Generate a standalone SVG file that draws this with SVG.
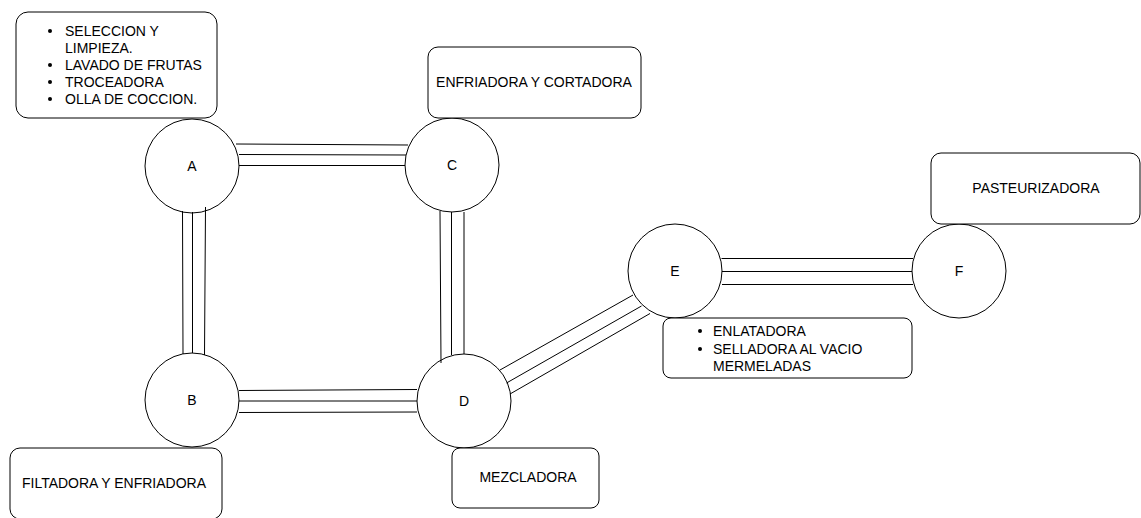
<svg xmlns="http://www.w3.org/2000/svg" width="1141" height="518" viewBox="0 0 1141 518">
  <style>
    .box { fill: #ffffff; stroke: #000000; stroke-width: 1; }
    .station { fill: #ffffff; stroke: #000000; stroke-width: 1; }
    .pipe { stroke: #000000; stroke-width: 1; fill: none; }
    text { font-family: "Liberation Sans", Arial, sans-serif; font-size: 14px; fill: #000000; }
    .mid { text-anchor: middle; }
    .dot { fill: #000000; }
  </style>
  <rect width="1141" height="518" fill="#ffffff"/>

  <!-- process stations -->
  <g id="node-A">
    <circle class="station" cx="192" cy="166" r="47"/>
    <text class="mid" x="192" y="171">A</text>
  </g>
  <g id="node-C">
    <circle class="station" cx="452" cy="165" r="47"/>
    <text class="mid" x="452" y="170">C</text>
  </g>
  <g id="node-B">
    <circle class="station" cx="192" cy="400" r="47"/>
    <text class="mid" x="192" y="405">B</text>
  </g>
  <g id="node-D">
    <circle class="station" cx="464" cy="401" r="47"/>
    <text class="mid" x="464" y="406">D</text>
  </g>
  <g id="node-E">
    <circle class="station" cx="675" cy="271" r="47"/>
    <text class="mid" x="675" y="276">E</text>
  </g>
  <g id="node-F">
    <circle class="station" cx="959" cy="271" r="47"/>
    <text class="mid" x="959" y="276">F</text>
  </g>

  <!-- equipment labels -->
  <g id="label-A">
    <rect class="box" x="16" y="12" width="201" height="106" rx="12"/>
    <circle class="dot" cx="50" cy="31" r="2"/>
    <text x="65" y="36">SELECCION Y</text>
    <text x="65" y="53">LIMPIEZA.</text>
    <circle class="dot" cx="50" cy="65" r="2"/>
    <text x="65" y="70">LAVADO DE FRUTAS</text>
    <circle class="dot" cx="50" cy="82" r="2"/>
    <text x="65" y="87">TROCEADORA</text>
    <circle class="dot" cx="50" cy="99" r="2"/>
    <text x="65" y="104">OLLA DE COCCION.</text>
  </g>
  <g id="label-C">
    <rect class="box" x="428" y="47" width="213" height="71" rx="10"/>
    <text class="mid" x="534" y="87">ENFRIADORA Y CORTADORA</text>
  </g>
  <g id="label-F">
    <rect class="box" x="931" y="153" width="209" height="71" rx="10"/>
    <text class="mid" x="1036" y="193">PASTEURIZADORA</text>
  </g>
  <g id="label-E">
    <rect class="box" x="663" y="318" width="249" height="60" rx="8"/>
    <circle class="dot" cx="700" cy="331" r="2"/>
    <text x="713" y="336">ENLATADORA</text>
    <circle class="dot" cx="700" cy="349" r="2"/>
    <text x="713" y="354">SELLADORA AL VACIO</text>
    <text x="713" y="371">MERMELADAS</text>
  </g>
  <g id="label-B">
    <rect class="box" x="10" y="448" width="212" height="71" rx="10"/>
    <text class="mid" x="114" y="488">FILTADORA Y ENFRIADORA</text>
  </g>
  <g id="label-D">
    <rect class="box" x="452" y="448" width="147" height="60" rx="8"/>
    <text class="mid" x="528" y="482">MEZCLADORA</text>
  </g>

  <!-- triple-line pipes between stations -->
  <g id="connectors">
    <!-- A to C -->
    <line class="pipe" x1="236" y1="144" x2="408" y2="145"/>
    <line class="pipe" x1="239" y1="154.5" x2="406" y2="155"/>
    <line class="pipe" x1="239" y1="165.5" x2="405" y2="165.5"/>
    <!-- A to B -->
    <line class="pipe" x1="182.5" y1="211" x2="183" y2="354"/>
    <line class="pipe" x1="192.5" y1="212" x2="192.5" y2="353"/>
    <line class="pipe" x1="205.5" y1="207" x2="204.5" y2="355"/>
    <!-- C to D -->
    <line class="pipe" x1="440" y1="211" x2="441" y2="363"/>
    <line class="pipe" x1="451.5" y1="212" x2="451.5" y2="355"/>
    <line class="pipe" x1="464" y1="212" x2="464" y2="354"/>
    <!-- B to D -->
    <line class="pipe" x1="239" y1="390.5" x2="417" y2="389.5"/>
    <line class="pipe" x1="239" y1="401" x2="417" y2="401"/>
    <line class="pipe" x1="239" y1="412.5" x2="417" y2="412"/>
    <!-- D to E -->
    <line class="pipe" x1="500" y1="370" x2="633" y2="295"/>
    <line class="pipe" x1="506.5" y1="383" x2="641.5" y2="306"/>
    <line class="pipe" x1="510" y1="394" x2="650" y2="313.5"/>
    <!-- E to F -->
    <line class="pipe" x1="721.5" y1="258.5" x2="913" y2="258.5"/>
    <line class="pipe" x1="722" y1="271.5" x2="912" y2="271.5"/>
    <line class="pipe" x1="722" y1="284.5" x2="913" y2="284.5"/>
  </g>
</svg>
